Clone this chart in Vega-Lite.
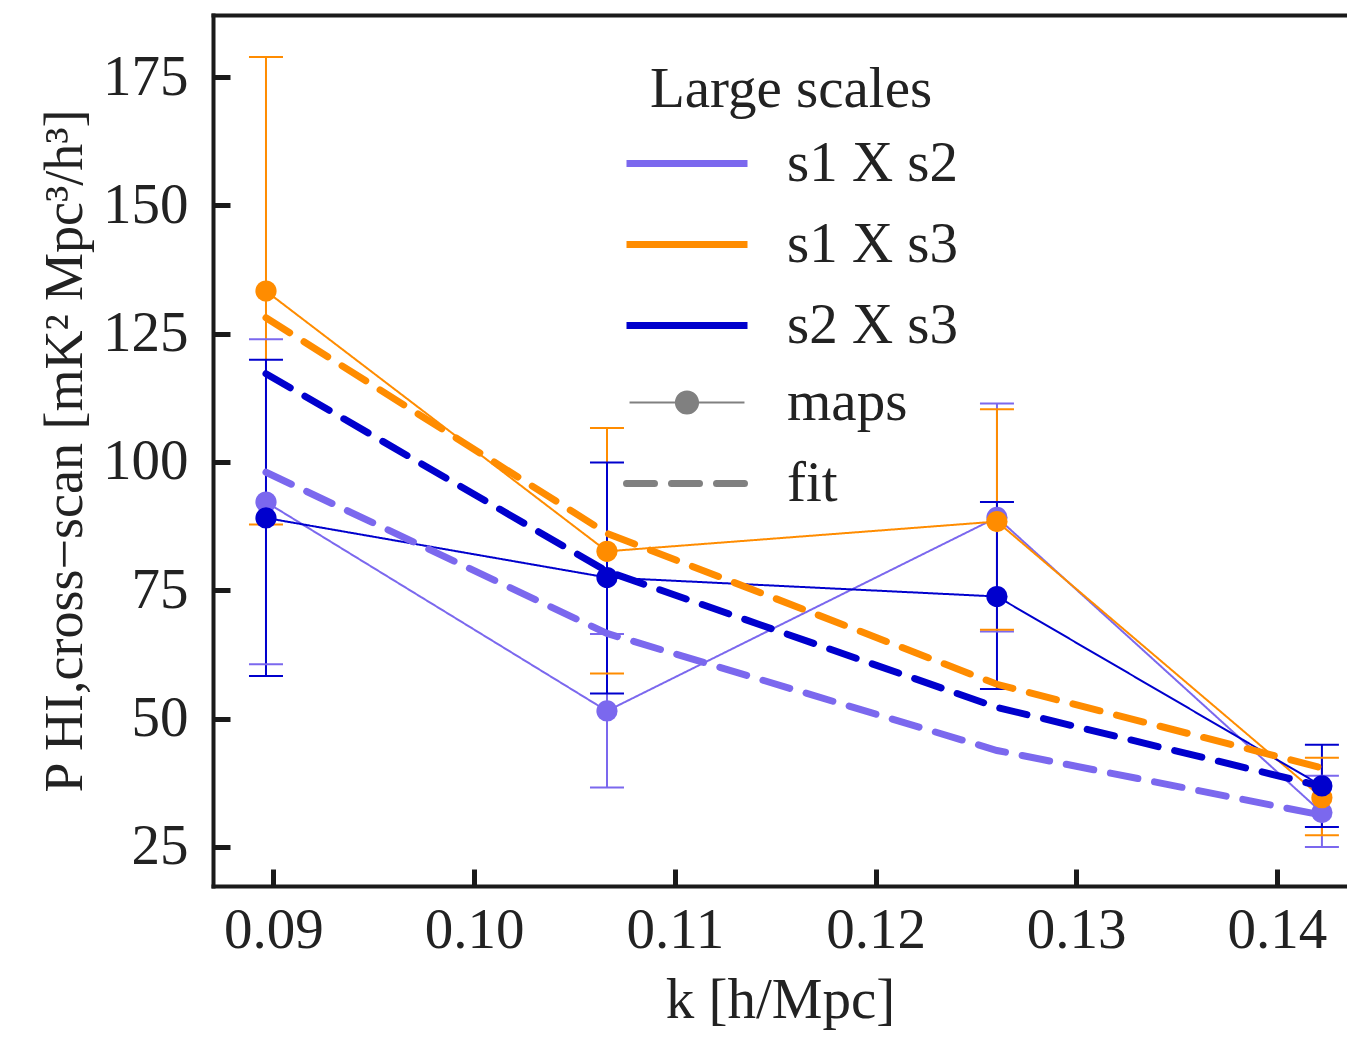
{
  "$schema": "https://vega.github.io/schema/vega-lite/v6.json",
  "width": 1134,
  "height": 871,
  "autosize": {"type": "none"},
  "padding": {"left": 213, "top": 15, "right": 0, "bottom": 152},
  "background": "white",
  "config": {
    "view": {"stroke": null},
    "font": "Liberation Serif",
    "axis": {
      "grid": false,
      "domainColor": "#1a1a1a",
      "domainWidth": 4,
      "domainCap": "square",
      "tickColor": "#1a1a1a",
      "tickWidth": 5,
      "tickSize": -17,
      "labelFont": "Liberation Serif",
      "labelFontSize": 57,
      "labelColor": "#222222",
      "titleFont": "Liberation Serif",
      "titleFontWeight": "normal",
      "titleColor": "#222222"
    },
    "legend": {
      "labelFont": "Liberation Serif",
      "labelFontSize": 57,
      "labelColor": "#222222",
      "labelLimit": 0,
      "titleLimit": 0,
      "titleFont": "Liberation Serif",
      "titleFontSize": 57,
      "titleFontWeight": "normal",
      "titleColor": "#222222",
      "padding": 0,
      "symbolType": "stroke",
      "symbolSize": 14641,
      "symbolStrokeWidth": 7,
      "clipHeight": 57,
      "rowPadding": 23,
      "labelOffset": 36
    }
  },
  "datasets": {
    "maps": [
      {"pair": "s1 X s2", "kind": "maps", "k": 0.08963, "val": 92.2, "lo": 60.6, "hi": 123.9},
      {"pair": "s1 X s2", "kind": "maps", "k": 0.10662, "val": 51.5, "lo": 36.6, "hi": 66.5},
      {"pair": "s1 X s2", "kind": "maps", "k": 0.12605, "val": 89.2, "lo": 67.0, "hi": 111.4},
      {"pair": "s1 X s2", "kind": "maps", "k": 0.14224, "val": 31.7, "lo": 25.0, "hi": 38.9},
      {"pair": "s1 X s3", "kind": "maps", "k": 0.08963, "val": 133.3, "lo": 87.8, "hi": 178.9},
      {"pair": "s1 X s3", "kind": "maps", "k": 0.10662, "val": 82.6, "lo": 58.8, "hi": 106.6},
      {"pair": "s1 X s3", "kind": "maps", "k": 0.12605, "val": 88.4, "lo": 67.3, "hi": 110.3},
      {"pair": "s1 X s3", "kind": "maps", "k": 0.14224, "val": 34.6, "lo": 27.3, "hi": 42.4},
      {"pair": "s2 X s3", "kind": "maps", "k": 0.08963, "val": 89.1, "lo": 58.3, "hi": 119.9},
      {"pair": "s2 X s3", "kind": "maps", "k": 0.10662, "val": 77.5, "lo": 54.9, "hi": 99.9},
      {"pair": "s2 X s3", "kind": "maps", "k": 0.12605, "val": 73.8, "lo": 55.8, "hi": 92.2},
      {"pair": "s2 X s3", "kind": "maps", "k": 0.14224, "val": 36.9, "lo": 28.9, "hi": 44.9}
    ],
    "fit": [
      {"pair": "s1 X s2", "kind": "fit", "k": 0.08963, "val": 98.0},
      {"pair": "s1 X s2", "kind": "fit", "k": 0.10662, "val": 66.6},
      {"pair": "s1 X s2", "kind": "fit", "k": 0.12605, "val": 43.8},
      {"pair": "s1 X s2", "kind": "fit", "k": 0.14224, "val": 31.2},
      {"pair": "s1 X s3", "kind": "fit", "k": 0.08963, "val": 128.1},
      {"pair": "s1 X s3", "kind": "fit", "k": 0.10662, "val": 86.1},
      {"pair": "s1 X s3", "kind": "fit", "k": 0.12605, "val": 56.7},
      {"pair": "s1 X s3", "kind": "fit", "k": 0.14224, "val": 40.4},
      {"pair": "s2 X s3", "kind": "fit", "k": 0.08963, "val": 117.2},
      {"pair": "s2 X s3", "kind": "fit", "k": 0.10662, "val": 78.7},
      {"pair": "s2 X s3", "kind": "fit", "k": 0.12605, "val": 52.2},
      {"pair": "s2 X s3", "kind": "fit", "k": 0.14224, "val": 36.8}
    ]
  },
  "resolve": {"axis": {"x": "independent"}},
  "layer": [
    {
      "data": {"name": "maps"},
      "mark": {"type": "rule", "strokeWidth": 2},
      "encoding": {
        "x": {
          "field": "k", "type": "quantitative",
          "scale": {"domain": [0.08699, 0.14349], "nice": false, "zero": false},
          "axis": {
            "orient": "bottom",
            "values": [0.09, 0.10, 0.11, 0.12, 0.13, 0.14],
            "format": ".2f",
            "labelPadding": 33,
            "title": "k [h/Mpc]",
            "titleFontSize": 57,
            "titlePadding": 14
          }
        },
        "y": {
          "field": "lo", "type": "quantitative",
          "scale": {"domain": [17.4, 187.08], "nice": false, "zero": false},
          "axis": {
            "values": [25, 50, 75, 100, 125, 150, 175],
            "format": "d",
            "labelPadding": 42,
            "title": "P HI,cross−scan [mK² Mpc³/h³]",
            "titleFontSize": 54,
            "titleBaseline": "alphabetic",
            "titlePadding": 21
          }
        },
        "y2": {"field": "hi"},
        "color": {
          "field": "pair", "type": "nominal",
          "scale": {"domain": ["s1 X s2", "s1 X s3", "s2 X s3"], "range": ["#7B68EE", "#FF8C00", "#0000CD"]},
          "legend": {
            "orient": "none",
            "legendX": 410,
            "legendY": 47,
            "title": "Large scales",
            "titleAnchor": "middle",
            "titleAlign": "center",
            "titlePadding": 16
          }
        }
      }
    },
    {
      "data": {"name": "maps"},
      "mark": {"type": "tick", "orient": "horizontal", "size": 34, "thickness": 2, "opacity": 1},
      "encoding": {
        "x": {"field": "k", "type": "quantitative", "axis": null},
        "y": {"field": "lo", "type": "quantitative"},
        "color": {"field": "pair", "type": "nominal"}
      }
    },
    {
      "data": {"name": "maps"},
      "mark": {"type": "tick", "orient": "horizontal", "size": 34, "thickness": 2, "opacity": 1},
      "encoding": {
        "x": {"field": "k", "type": "quantitative", "axis": null},
        "y": {"field": "hi", "type": "quantitative"},
        "color": {"field": "pair", "type": "nominal"}
      }
    },
    {
      "data": {"name": "maps"},
      "mark": {"type": "line", "strokeWidth": 2},
      "encoding": {
        "x": {"field": "k", "type": "quantitative", "axis": null},
        "y": {"field": "val", "type": "quantitative"},
        "color": {"field": "pair", "type": "nominal"},
        "strokeDash": {
          "field": "kind", "type": "nominal",
          "scale": {"domain": ["maps", "fit"], "range": [[1, 0], [28, 17]]},
          "legend": {
            "orient": "none",
            "legendX": 410,
            "legendY": 359,
            "title": null,
            "encode": {
              "symbols": {
                "update": {
                  "shape": {"signal": "datum.value === 'maps' ? 'M-0.95,-0.018L0.95,-0.018L0.95,0.018L-0.95,0.018Z M0.2,0A0.2,0.2,0,1,1,-0.2,0A0.2,0.2,0,1,1,0.2,0Z' : 'stroke'"},
                  "stroke": {"signal": "datum.value === 'maps' ? 'transparent' : '#808080'"},
                  "fill": {"signal": "datum.value === 'maps' ? '#808080' : 'transparent'"},
                  "strokeDash": {"signal": "datum.value === 'fit' ? [31, 15] : [1, 0]"},
                  "strokeCap": {"value": "round"},
                  "opacity": {"value": 1}
                }
              }
            }
          }
        }
      }
    },
    {
      "data": {"name": "maps"},
      "mark": {"type": "point", "filled": true, "size": 450, "opacity": 1},
      "encoding": {
        "x": {"field": "k", "type": "quantitative", "axis": null},
        "y": {"field": "val", "type": "quantitative"},
        "color": {"field": "pair", "type": "nominal"}
      }
    },
    {
      "data": {"name": "fit"},
      "mark": {"type": "line", "strokeWidth": 7, "strokeCap": "round"},
      "encoding": {
        "x": {
          "field": "k", "type": "quantitative",
          "axis": {"orient": "top", "labels": false, "ticks": false, "title": null, "domain": true}
        },
        "y": {"field": "val", "type": "quantitative"},
        "color": {"field": "pair", "type": "nominal"},
        "strokeDash": {"field": "kind", "type": "nominal"}
      }
    }
  ]
}
